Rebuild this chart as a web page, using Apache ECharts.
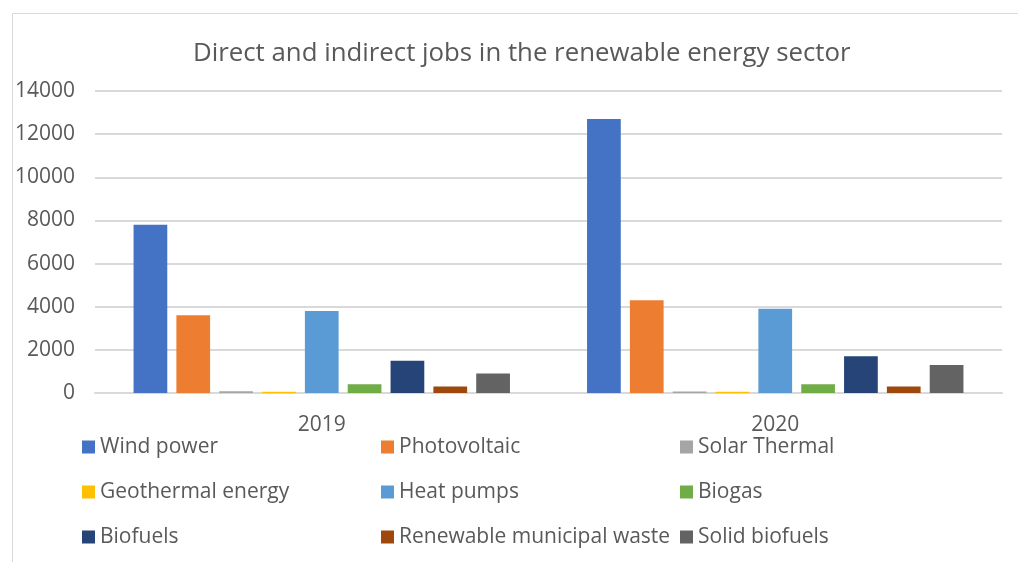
<!DOCTYPE html>
<html><head><meta charset="utf-8">
<script src="https://cdn.jsdelivr.net/npm/echarts@6/dist/echarts.min.js"></script>
<style>html,body{margin:0;padding:0;background:#fff}#c{width:1018px;height:562px}</style>
</head><body><div id="c"></div>
<script>
const categories = ['2019', '2020'];
const seriesNames = ['Wind power','Photovoltaic','Solar Thermal','Geothermal energy','Heat pumps','Biogas','Biofuels','Renewable municipal waste','Solid biofuels'];
const windPower = [7800, 12700];
const photovoltaic = [3600, 4300];
const solarThermal = [80, 70];
const geothermal = [60, 60];
const heatPumps = [3800, 3900];
const biogas = [400, 400];
const biofuels = [1500, 1700];
const municipalWaste = [300, 300];
const solidBiofuels = [900, 1300];
const yTicks = [0, 2000, 4000, 6000, 8000, 10000, 12000, 14000];
const colors = ['#4472C4','#ED7D31','#A5A5A5','#FFC000','#5B9BD5','#70AD47','#264478','#9E480E','#636363'];
const values = [windPower, photovoltaic, solarThermal, geothermal, heatPumps, biogas, biofuels, municipalWaste, solidBiofuels];

const font = '"Open Sans", "Liberation Sans", sans-serif';
const legendCols = [[0,3,6],[1,4,7],[2,5,8]];
const legendLeft = [82, 381, 680];

const chart = echarts.init(document.getElementById('c'));
chart.setOption({
  animation: false,
  color: colors,
  graphic: [{type:'rect', shape:{x:12.5,y:13.5,width:1010,height:560}, style:{fill:'none', stroke:'#d9d9d9', lineWidth:1}}],
  title: {text:'Direct and indirect jobs in the renewable energy sector', left:188, top:36,
    textStyle:{fontFamily:font, fontSize:25.8, fontWeight:'normal', color:'#595959'}},
  legend: legendCols.map((col, i) => ({
    orient:'vertical', left: legendLeft[i], top: 436, padding:0, itemWidth:13, itemHeight:13, icon:'rect', itemGap:23,
    data: col.map(k => seriesNames[k]),
    textStyle:{fontFamily:font, fontSize:21, color:'#595959', lineHeight:22}
  })),
  grid: {left:95, right:16, top:91, bottom:169},
  xAxis: {type:'category', data:categories,
    axisLine:{lineStyle:{color:'#d9d9d9', width:2}}, axisTick:{show:false},
    axisLabel:{fontFamily:font, fontSize:21, color:'#595959', margin:22}},
  yAxis: {type:'value', min:yTicks[0], max:yTicks[yTicks.length-1], interval:2000,
    axisLine:{show:false}, axisTick:{show:false},
    splitLine:{lineStyle:{color:'#d9d9d9', width:2}},
    axisLabel:{fontFamily:font, fontSize:21, color:'#595959', margin:20, formatter: v => String(v)}},
  series: seriesNames.map((n, i) => ({
    name:n, type:'bar', data:values[i], barGap:'27%', barCategoryGap:'17%',
    itemStyle:{color:colors[i]}
  }))
});
</script></body></html>
